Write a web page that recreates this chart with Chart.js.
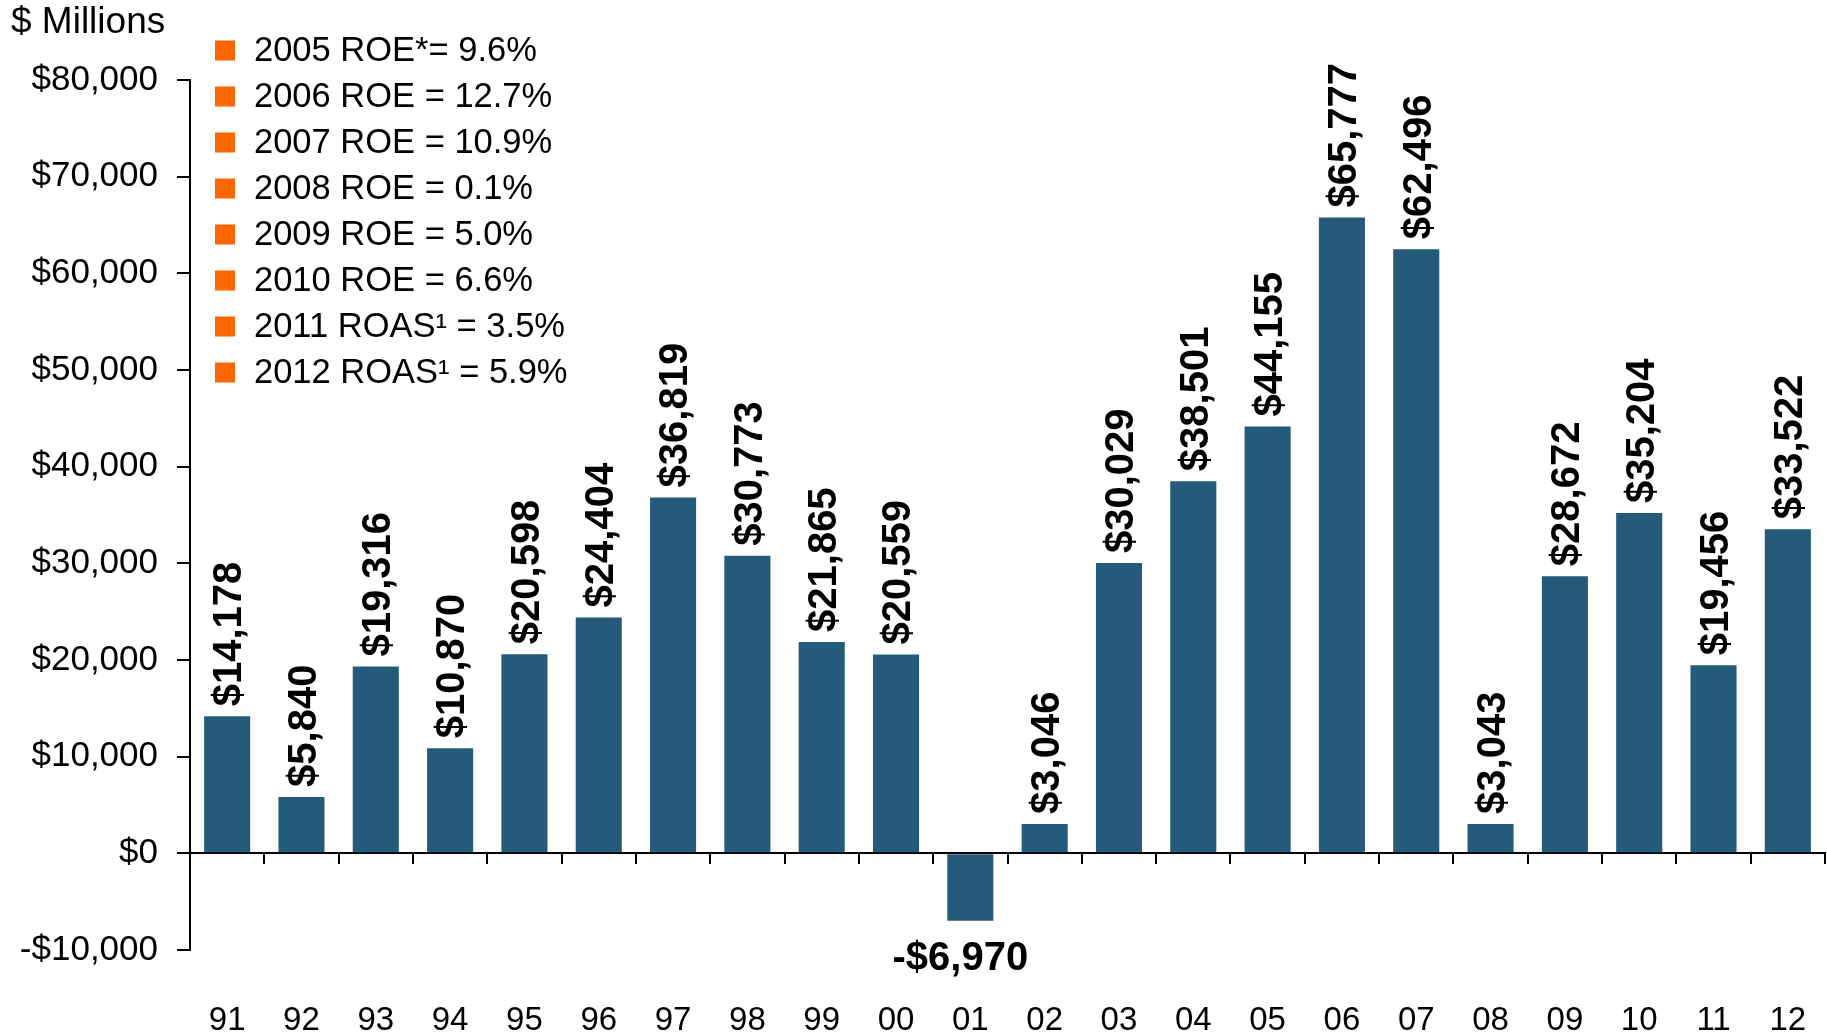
<!DOCTYPE html>
<html>
<head>
<meta charset="utf-8">
<script src="https://cdn.jsdelivr.net/npm/chart.js@4.4.1/dist/chart.umd.min.js"></script>
<style>
  html, body { margin: 0; padding: 0; background: #fff; }
  #wrap { width: 1827px; height: 1035px; }
</style>
</head>
<body>
<div id="wrap"><canvas id="chart" width="1827" height="1035"></canvas></div>
<script>
// yearly net income, $ millions
var years = ["91", "92", "93", "94", "95", "96", "97", "98", "99", "00", "01",
             "02", "03", "04", "05", "06", "07", "08", "09", "10", "11", "12"];
var netIncome = [14178, 5840, 19316, 10870, 20598, 24404, 36819, 30773, 21865, 20559, -6970,
                 3046, 30029, 38501, 44155, 65777, 62496, 3043, 28672, 35204, 19456, 33522];
var returnNotes = [
  "2005 ROE*= 9.6%",
  "2006 ROE = 12.7%",
  "2007 ROE = 10.9%",
  "2008 ROE = 0.1%",
  "2009 ROE = 5.0%",
  "2010 ROE = 6.6%",
  "2011 ROAS\u00b9 = 3.5%",
  "2012 ROAS\u00b9 = 5.9%"
];
var unitLabel = "$ Millions";

var FONT = "'Liberation Sans', Arial, Helvetica, sans-serif";
var BAR_BLUE = "#245B7A";
var ORANGE = "#FF6600";

function withCommas(n) {
  return String(Math.abs(n)).replace(/\B(?=(\d{3})+(?!\d))/g, ",");
}
function dollars(v) {
  return (v < 0 ? "-$" : "$") + withCommas(v);
}

// value labels: rotated above positive bars, flat under negative ones
var barLabels = {
  id: "barLabels",
  afterDatasetsDraw: function(chart) {
    var ctx = chart.ctx;
    var meta = chart.getDatasetMeta(0);
    var size = 40;
    var capH = size * 0.716;
    ctx.save();
    ctx.fillStyle = "#000";
    ctx.font = "bold " + size + "px " + FONT;
    meta.data.forEach(function(bar, i) {
      var v = netIncome[i];
      var txt = dollars(v);
      if (v >= 0) {
        ctx.save();
        ctx.translate(bar.x, bar.y - 10);
        ctx.rotate(-Math.PI / 2);
        ctx.textAlign = "left";
        ctx.textBaseline = "alphabetic";
        ctx.fillText(txt, 0, capH / 2);
        ctx.restore();
      } else {
        ctx.textAlign = "center";
        ctx.textBaseline = "alphabetic";
        ctx.fillText(txt, bar.x - 10, bar.y + 21 + capH);
      }
    });
    ctx.restore();
  }
};

// unit caption and the return-ratio notes
var notes = {
  id: "notes",
  afterDraw: function(chart) {
    var ctx = chart.ctx;
    ctx.save();
    ctx.fillStyle = "#000";
    ctx.textAlign = "left";
    ctx.textBaseline = "middle";
    ctx.font = "37px " + FONT;
    ctx.fillText(unitLabel, 11, 23);
    ctx.font = "34.5px " + FONT;
    returnNotes.forEach(function(t, i) {
      var cy = 50.5 + i * 46;
      ctx.fillStyle = ORANGE;
      ctx.fillRect(215, cy - 10, 20, 20);
      ctx.fillStyle = "#000";
      ctx.fillText(t, 254, cy + 1);
    });
    ctx.restore();
  }
};

new Chart(document.getElementById("chart"), {
  type: "bar",
  data: {
    labels: years,
    datasets: [{
      data: netIncome,
      backgroundColor: BAR_BLUE,
      borderWidth: 0,
      categoryPercentage: 1,
      barPercentage: 0.62,
      xAxisID: "x",
      yAxisID: "y"
    }]
  },
  options: {
    responsive: false,
    animation: false,
    devicePixelRatio: 1,
    layout: { padding: { top: 80, right: 2, bottom: 0, left: 0 } },
    plugins: {
      legend: { display: false },
      tooltip: { enabled: false }
    },
    scales: {
      y: {
        min: -10000,
        max: 80000,
        afterFit: function(s) { s.width = 190; },
        ticks: {
          stepSize: 10000,
          padding: 19,
          color: "#000",
          font: { family: FONT, size: 35 },
          callback: function(v) { return dollars(v); }
        },
        grid: {
          drawOnChartArea: false,
          drawTicks: true,
          tickLength: 13,
          color: "#000",
          lineWidth: 2
        },
        border: { display: true, color: "#000", width: 2 }
      },
      // zero line with category ticks
      x: {
        position: { y: 0 },
        offset: true,
        ticks: { display: false },
        grid: {
          offset: true,
          drawOnChartArea: false,
          drawTicks: true,
          tickLength: 10,
          color: "#000",
          lineWidth: 2
        },
        border: { display: true, color: "#000", width: 2 }
      },
      // year labels along the bottom; the tall line box sets their height
      x2: {
        type: "category",
        axis: "x",
        position: "bottom",
        labels: years,
        offset: true,
        afterFit: function(s) { s.height = 85; },
        ticks: {
          padding: 0,
          color: "#000",
          maxRotation: 0,
          autoSkip: false,
          font: { family: FONT, size: 33, lineHeight: "141px" }
        },
        grid: { display: false, drawTicks: false },
        border: { display: false }
      }
    }
  },
  plugins: [barLabels, notes]
});
</script>
</body>
</html>
